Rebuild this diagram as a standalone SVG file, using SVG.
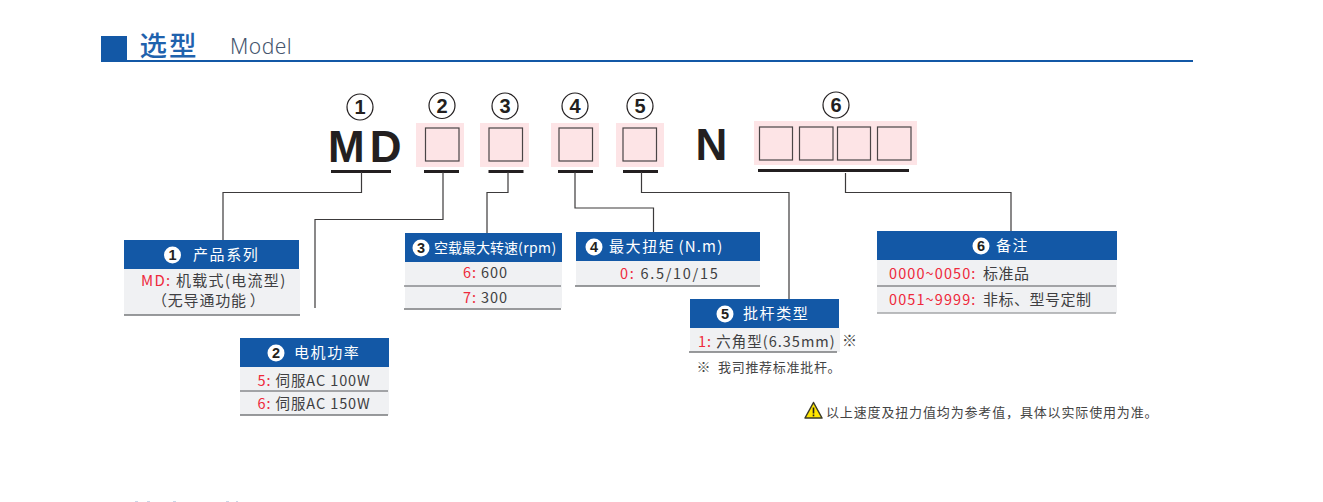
<svg xmlns="http://www.w3.org/2000/svg" width="1323" height="502" viewBox="0 0 1323 502">
<style>
text{font-family:"Noto Sans CJK SC","Noto Sans",sans-serif}
.hd{fill:#1358a6}
.bd{fill:#f0f1f3}
.pink{fill:#fde4e6}
.sq{fill:none;stroke:#4a4546;stroke-width:1.2}
.bar{fill:#231f20}
.cn{fill:none;stroke:#3c3a3b;stroke-width:1.2}
.dv{stroke:#55565a;stroke-width:1}
.bt{stroke:#77787b;stroke-width:1.4}
.ht{fill:#fff;font-size:15px;letter-spacing:1.6px;font-weight:400}
.t{fill:#3f3f42;font-size:14.5px;letter-spacing:.9px}
.r{fill:#ee2a3c}
.num{fill:#231f20;font-family:"Liberation Sans",sans-serif;font-weight:700;font-size:20px;text-anchor:middle}
.cc{fill:none;stroke:#231f20;stroke-width:1.2}
.wc{fill:#fff}
.wn{fill:#231f20;font-family:"Liberation Sans",sans-serif;font-weight:700;font-size:14.500px;text-anchor:middle}
.big{fill:#231f20;font-family:"Liberation Sans",sans-serif;font-weight:700}
.note{fill:#444;font-size:13px;letter-spacing:.85px}
</style>
<rect width="1323" height="502" fill="#fff"/>
<g id="title">
<rect x="101" y="36" width="26" height="26" fill="#1358a6"/>
<rect x="101" y="60" width="1092" height="2" fill="#1358a6"/>
<text x="139.500" y="55.500" font-size="27.500" letter-spacing="2" fill="#1f62ad" font-weight="500">选型</text>
<text x="230" y="54" font-size="21" letter-spacing=".5" fill="#46566e" style="font-family:'Noto Sans',sans-serif;font-weight:300">Model</text>
</g>
<g id="code">
<g id="code-1"><circle class="cc" cx="360" cy="107" r="13"/><text class="num" x="360" y="114">1</text>
<text class="big" x="328" y="162" font-size="44" letter-spacing="5">MD</text><rect class="bar" x="331" y="170" width="60" height="3"/></g>
<g id="code-2"><circle class="cc" cx="442" cy="105.500" r="13"/><text class="num" x="442" y="112.500">2</text>
<rect class="pink" x="416" y="123" width="48" height="44"/><rect class="sq" x="425.500" y="128" width="33.500" height="33"/><rect class="bar" x="424" y="170" width="35" height="3"/></g>
<g id="code-3"><circle class="cc" cx="505" cy="106" r="13"/><text class="num" x="505" y="113">3</text>
<rect class="pink" x="480" y="123" width="49" height="44"/><rect class="sq" x="489" y="128" width="33.500" height="33"/><rect class="bar" x="488.500" y="170" width="35" height="3"/></g>
<g id="code-4"><circle class="cc" cx="575" cy="106" r="13"/><text class="num" x="575" y="113">4</text>
<rect class="pink" x="551" y="123" width="48" height="44"/><rect class="sq" x="559" y="128" width="33.500" height="33"/><rect class="bar" x="558" y="170" width="35" height="3"/></g>
<g id="code-5"><circle class="cc" cx="640" cy="106" r="13"/><text class="num" x="640" y="113">5</text>
<rect class="pink" x="616" y="123" width="48" height="44"/><rect class="sq" x="623" y="128" width="33.500" height="33"/><rect class="bar" x="623" y="170" width="35" height="3"/></g>
<g id="code-n"><text class="big" x="695.500" y="160" font-size="44">N</text></g>
<g id="code-6"><circle class="cc" cx="836" cy="105" r="13"/><text class="num" x="836" y="112">6</text>
<rect class="pink" x="754" y="121" width="163" height="44"/>
<rect class="sq" x="759.500" y="127" width="33" height="33"/><rect class="sq" x="799.500" y="127" width="33.500" height="33"/><rect class="sq" x="837.500" y="127" width="33" height="33"/><rect class="sq" x="877.500" y="127" width="33.500" height="33"/>
<rect class="bar" x="758" y="169" width="151" height="3"/></g>
</g>
<g id="connectors">
<path class="cn" d="M361.500 172V192.500H223V240"/>
<path class="cn" d="M443 172V219.500H315V308"/>
<path class="cn" d="M508 172V192.500H487V233"/>
<path class="cn" d="M575 172V208H653.500V232"/>
<path class="cn" d="M641.500 172V192.500H789V299"/>
<path class="cn" d="M845.500 173V192.500H1011V231"/>
</g>
<g id="box1">
<rect class="bd" x="124" y="269" width="176" height="46"/><rect class="hd" x="124" y="240" width="175" height="29"/>
<line class="bt" x1="124" y1="315" x2="300" y2="315"/>
<circle class="wc" cx="172.500" cy="255" r="8.500"/><text class="wn" x="172.500" y="260">1</text>
<text class="ht" x="193" y="260">产品系列</text>
<text class="t" x="141" y="286" style="font-size:15px;letter-spacing:1.300px"><tspan class="r">MD:</tspan><tspan x="176">机载式(电流型)</tspan></text>
<text class="t" x="152" y="306" style="font-size:15px;letter-spacing:.8px">（无导通功能<tspan dx="3">）</tspan></text>
</g>
<g id="box2">
<rect class="bd" x="240" y="367" width="149" height="48"/><rect class="hd" x="240" y="338" width="149" height="29"/>
<line class="dv" x1="240" y1="391" x2="388" y2="391"/><line class="bt" x1="240" y1="415" x2="388" y2="415"/>
<circle class="wc" cx="276" cy="353" r="8.500"/><text class="wn" x="276" y="358">2</text>
<text class="ht" x="294" y="358">电机功率</text>
<text class="t" x="257.500" y="386"><tspan class="r">5:</tspan> 伺服AC 100W</text>
<text class="t" x="257.500" y="409"><tspan class="r">6:</tspan> 伺服AC 150W</text>
</g>
<g id="box3">
<rect class="bd" x="405" y="262" width="157" height="46"/><rect class="hd" x="405" y="233" width="157" height="29"/>
<line class="dv" x1="404" y1="286" x2="561" y2="286"/><line class="bt" x1="404" y1="309" x2="561" y2="309"/>
<circle class="wc" cx="421" cy="248" r="8.500"/><text class="wn" x="421" y="253">3</text>
<text class="ht" x="434" y="253" style="font-size:14px;letter-spacing:0">空载最大转速<tspan style="letter-spacing:.4px">(rpm)</tspan></text>
<text class="t" x="463" y="278"><tspan class="r">6:</tspan> 600</text>
<text class="t" x="463" y="303"><tspan class="r">7:</tspan> 300</text>
</g>
<g id="box4">
<rect class="bd" x="576" y="261" width="184" height="25"/><rect class="hd" x="576" y="232" width="184" height="29"/>
<line class="bt" x1="575" y1="286" x2="760" y2="286"/>
<circle class="wc" cx="594" cy="247" r="8.500"/><text class="wn" x="594" y="252">4</text>
<text class="ht" x="609" y="252">最大扭矩<tspan dx="3" style="letter-spacing:1.200px">(N.m)</tspan></text>
<text class="t" x="620" y="279" style="letter-spacing:1.700px"><tspan class="r">0:</tspan> 6.5/10/15</text>
</g>
<g id="box5">
<rect class="bd" x="690" y="328" width="150" height="24"/><rect class="hd" x="690" y="299" width="149" height="29"/>
<line class="bt" x1="689" y1="352" x2="837" y2="352"/>
<circle class="wc" cx="725" cy="314" r="8.500"/><text class="wn" x="725" y="319">5</text>
<text class="ht" x="743" y="319">批杆类型</text>
<text class="t" x="698" y="347" style="letter-spacing:1px"><tspan class="r">1:</tspan> 六角型(6.35mm)</text>
<text x="842" y="346" font-size="15" fill="#444">※</text>
<text class="note" x="696.500" y="372" style="letter-spacing:.7px"><tspan style="font-size:14px">※</tspan><tspan x="718">我司推荐标准批杆。</tspan></text>
</g>
<g id="box6">
<rect class="bd" x="877" y="260" width="240" height="53"/><rect class="hd" x="877" y="231" width="240" height="29"/>
<line class="dv" x1="877" y1="286" x2="1116" y2="286" style="stroke:#88898c;stroke-width:1.4"/><line class="bt" x1="877" y1="313" x2="1116" y2="313" style="stroke:#a5a6a9"/>
<circle class="wc" cx="981" cy="246" r="8.500"/><text class="wn" x="981" y="251">6</text>
<text class="ht" x="996" y="251">备注</text>
<text class="t" x="889" y="279" style="letter-spacing:1.100px"><tspan class="r">0000~0050:</tspan><tspan x="983" style="font-size:15px;letter-spacing:.5px">标准品</tspan></text>
<text class="t" x="889" y="305" style="letter-spacing:1.100px"><tspan class="r">0051~9999:</tspan><tspan x="983" style="font-size:15px;letter-spacing:.5px">非标、型号定制</tspan></text>
</g>
<g id="warning">
<path d="M813.500 402.500L822 418H805Z" fill="#ffe600" stroke="#3a3a2a" stroke-width="1.500" stroke-linejoin="round"/>
<rect x="812.700" y="407.500" width="1.600" height="6" fill="#231f20"/><rect x="812.700" y="414.500" width="1.600" height="1.800" fill="#231f20"/>
<text class="note" x="826" y="417">以上速度及扭力值均为参考值，具体以实际使用为准。</text>
</g>
<g id="cut-off" fill="#c9d6e8">
<rect x="135" y="501" width="3" height="1"/><rect x="147" y="501" width="3" height="1"/><rect x="173" y="501" width="3" height="1"/><rect x="226" y="501" width="3" height="1"/><rect x="236" y="501" width="2" height="1"/>
</g>
</svg>
